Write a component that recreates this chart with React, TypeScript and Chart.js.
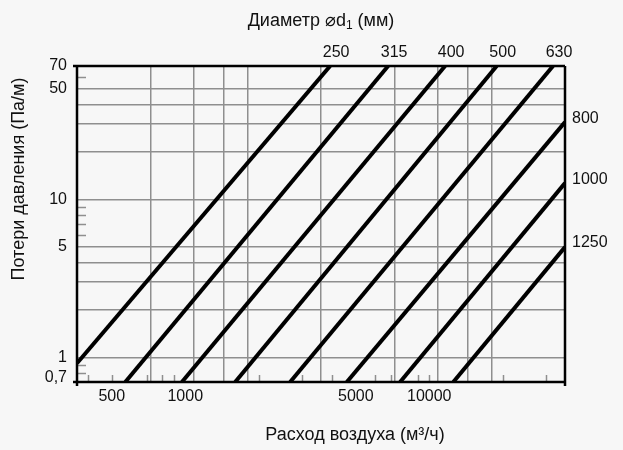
import { useEffect, useRef } from "react";
import { Chart, registerables } from "chart.js";

Chart.register(...registerables);

// Diameters (mm) of the straight duct lines
const diameters = ["250", "315", "400", "500", "630", "800", "1000", "1250"];
// Air flow (m³/h) and pressure loss (Pa/m) at each line's two ends
const flowStart = [360, 568, 969, 1602, 2691, 4594, 7596, 12550];
const lossStart = [0.92, 0.7, 0.7, 0.7, 0.7, 0.7, 0.7, 0.7];
const flowEnd = [3924, 6783, 11610, 18900, 32150, 36000, 36000, 36000];
const lossEnd = [70, 70, 70, 70, 70, 30.9, 12.7, 5.0];

// Axis ranges
const xMin = 360;
const xMax = 36000;
const yMin = 0.7;
const yMax = 70;

// Grid lines and ticks
const xGridValues = [720, 1080, 1440, 1800, 3600, 7200, 10800, 14400, 18000];
const xTickValues = [500, 1000, 5000, 10000];
const xTickLabels = ["500", "1000", "5000", "10000"];
const xMinorTicks = [400, 500, 700, 800, 900, 2000, 3000, 4000, 6000, 7000, 9000, 10000, 20000, 30000];
const yGridValues = [1, 2, 3, 4, 5, 10, 20, 30, 40, 50];
const yTickValues = [0.7, 1, 5, 10, 50, 70];
const yTickLabels = ["0,7", "1", "5", "10", "50", "70"];
const yMinorTicks = [0.8, 0.9, 6, 7, 8, 9, 60];

const FONT = "'Liberation Sans', Arial, sans-serif";

export default function App() {
  const ref = useRef<HTMLCanvasElement | null>(null);

  useEffect(() => {
    if (!ref.current) return;

    const overlay = {
      id: "overlay",
      afterDraw(chart: any) {
        const ctx = chart.ctx;
        const { left, right, top, bottom } = chart.chartArea;
        const xs = chart.scales.x;
        const ys = chart.scales.y;
        ctx.save();

        // minor ticks
        ctx.strokeStyle = "#8f8f8f";
        ctx.lineWidth = 1.5;
        ctx.beginPath();
        yMinorTicks.forEach((v) => {
          const y = Math.round(ys.getPixelForValue(v)) + 0.5;
          ctx.moveTo(left, y);
          ctx.lineTo(left + 9, y);
        });
        xMinorTicks.forEach((v) => {
          const x = Math.round(xs.getPixelForValue(v)) + 0.5;
          ctx.moveTo(x, bottom);
          ctx.lineTo(x, bottom - 7);
        });
        ctx.stroke();

        // frame
        ctx.strokeStyle = "#000";
        ctx.lineWidth = 2.5;
        ctx.beginPath();
        ctx.moveTo(left - 4, top);
        ctx.lineTo(right, top);
        ctx.moveTo(left - 4, bottom);
        ctx.lineTo(right, bottom);
        ctx.moveTo(left, top);
        ctx.lineTo(left, bottom + 4);
        ctx.moveTo(right, top);
        ctx.lineTo(right, bottom + 4);
        ctx.stroke();

        ctx.fillStyle = "#111";
        ctx.font = `16px ${FONT}`;
        // x tick labels
        ctx.textAlign = "center";
        ctx.textBaseline = "middle";
        xTickValues.forEach((v, i) => {
          ctx.fillText(xTickLabels[i], xs.getPixelForValue(v), bottom + 15);
        });
        // y tick labels
        ctx.textAlign = "right";
        yTickValues.forEach((v, i) => {
          let y = ys.getPixelForValue(v);
          if (v === yMin) y -= 4;
          ctx.fillText(yTickLabels[i], left - 10, y);
        });

        // diameter labels
        diameters.forEach((d, i) => {
          if (lossEnd[i] >= yMax) {
            ctx.textAlign = "center";
            ctx.fillText(d, xs.getPixelForValue(flowEnd[i]) + 6, top - 13);
          } else {
            ctx.textAlign = "left";
            ctx.fillText(d, right + 7, ys.getPixelForValue(lossEnd[i]) - 4);
          }
        });

        // titles
        ctx.font = `18px ${FONT}`;
        // top title with subscript
        const partA = "Диаметр ⌀d";
        const partSub = "1";
        const partB = " (мм)";
        const wA = ctx.measureText(partA).width;
        const wB = ctx.measureText(partB).width;
        ctx.font = `12px ${FONT}`;
        const wS = ctx.measureText(partSub).width;
        const total = wA + wS + wB;
        const cx = (left + right) / 2;
        let x0 = cx - total / 2;
        ctx.textAlign = "left";
        ctx.font = `18px ${FONT}`;
        ctx.fillText(partA, x0, 21);
        ctx.font = `12px ${FONT}`;
        ctx.fillText(partSub, x0 + wA, 26);
        ctx.font = `18px ${FONT}`;
        ctx.fillText(partB, x0 + wA + wS, 21);

        // bottom title
        ctx.textAlign = "center";
        ctx.fillText("Расход воздуха (м³/ч)", 355, 435);

        // y title
        ctx.translate(19, 179);
        ctx.rotate(-Math.PI / 2);
        ctx.fillText("Потери давления (Па/м)", 0, 0);

        ctx.restore();
      },
    };

    const chart = new Chart(ref.current, {
      type: "line",
      data: {
        datasets: diameters.map((d, i) => ({
          label: d,
          data: [
            { x: flowStart[i], y: lossStart[i] },
            { x: flowEnd[i], y: lossEnd[i] },
          ],
          borderColor: "#000",
          borderWidth: 4,
          pointRadius: 0,
          fill: false,
          tension: 0,
          borderCapStyle: "butt" as const,
        })),
      },
      options: {
        responsive: false,
        animation: false,
        events: [],
        layout: { padding: { left: 77, right: 58, top: 66, bottom: 68 } },
        plugins: { legend: { display: false }, tooltip: { enabled: false }, title: { display: false } },
        scales: {
          x: {
            type: "logarithmic",
            min: xMin,
            max: xMax,
            afterBuildTicks: (axis: any) => {
              axis.ticks = xGridValues.map((v) => ({ value: v }));
            },
            ticks: { display: false },
            grid: { color: "#8f8f8f", lineWidth: 1.5, drawTicks: false },
            border: { display: false },
          },
          y: {
            type: "logarithmic",
            min: yMin,
            max: yMax,
            afterBuildTicks: (axis: any) => {
              axis.ticks = yGridValues.map((v) => ({ value: v }));
            },
            ticks: { display: false },
            grid: { color: "#8f8f8f", lineWidth: 1.5, drawTicks: false },
            border: { display: false },
          },
        },
      },
      plugins: [overlay],
    });

    return () => chart.destroy();
  }, []);

  return (
    <div style={{ position: "absolute", left: 0, top: 0, width: 623, height: 450, background: "#f7f7f7" }}>
      <canvas ref={ref} width={623} height={450} />
    </div>
  );
}
